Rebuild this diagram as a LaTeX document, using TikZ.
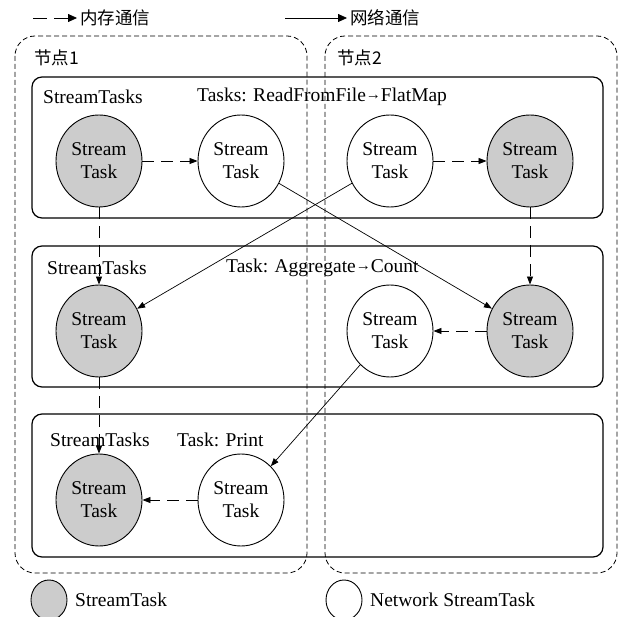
\documentclass[tikz,border=0pt]{standalone}
\usepackage{fontspec}
\setmainfont{Liberation Serif}
\newfontfamily\cjk{Noto Sans CJK SC}
\usetikzlibrary{shapes.geometric,arrows.meta}
\definecolor{taskgray}{RGB}{204,204,204}
\newcommand{\smallarrow}{{\fontsize{15}{15}\selectfont\raisebox{2.5pt}{→}}}
\begin{document}
\begin{tikzpicture}[x=1pt,y=-1pt,
  every node/.style={font=\fontsize{19.5}{21}\selectfont},
  task/.style={ellipse,draw,line width=0.9pt,minimum width=86pt,minimum height=92pt,inner sep=0pt,align=center,font=\fontsize{19.5}{23}\selectfont},
  local/.style={task,fill=taskgray},
  net/.style={task,fill=white},
  tip/.style={-{Triangle[length=8pt,width=6pt]}},
  memlink/.style={tip,line width=0.8pt,dash pattern=on 12pt off 7pt},
  netlink/.style={tip,line width=0.7pt},
  machine/.style={draw,line width=0.8pt,dash pattern=on 5pt off 3pt,rounded corners=20pt},
  stage/.style={draw,line width=1.2pt,rounded corners=10pt},
  lbl/.style={anchor=west,inner sep=0pt},
  zh/.style={lbl,font=\cjk\fontsize{17.5}{19}\selectfont}]
\useasboundingbox (0,0) rectangle (621,617);

% legend: line styles
\coordinate (ma) at (33,18);
\coordinate (mb) at (77,18);
\draw[tip,line width=0.8pt,dash pattern=on 14pt off 7pt,-{Triangle[length=9pt,width=8pt]}] (ma) -- (mb);
\node[zh] (memtxt) at (80,18) {内存通信};
\coordinate (na) at (285,18);
\coordinate (nb) at (347,18);
\draw[line width=0.8pt,-{Triangle[length=9pt,width=8pt]}] (na) -- (nb);
\node[zh] (nettxt) at (350,18) {网络通信};

% machines
\draw[machine] (15,36) rectangle (307,573);
\draw[machine] (325,36) rectangle (617,573);
\node[zh] (m1) at (34,58) {节点1};
\node[zh] (m2) at (337,58) {节点2};

% stages
\draw[stage] (32,77) rectangle (603,218);
\draw[stage] (32,246) rectangle (603,387);
\draw[stage] (32,414) rectangle (603,557);

\node[lbl] (s1a) at (43,97) {StreamTasks};
\node[lbl] (s1b) at (197,97) {Tasks: ReadFromFile\smallarrow FlatMap};
\node[lbl] (s2a) at (47,268) {StreamTasks};
\node[lbl] (s2b) at (226,268) {Task: Aggregate\smallarrow Count};
\node[lbl] (s3a) at (50,440) {StreamTasks};
\node[lbl] (s3b) at (177,440) {Task: Print};

% tasks
\node[local] (a1) at (99,161) {Stream\\Task};
\node[net]   (b1) at (241,161) {Stream\\Task};
\node[net]   (c1) at (390,161) {Stream\\Task};
\node[local] (d1) at (530,161) {Stream\\Task};

\node[local] (a2) at (99,331) {Stream\\Task};
\node[net]   (c2) at (390,331) {Stream\\Task};
\node[local] (d2) at (530,331) {Stream\\Task};

\node[local] (a3) at (99,500) {Stream\\Task};
\node[net]   (b3) at (241,500) {Stream\\Task};

% in-memory links
\draw[memlink] (a1) -- (b1);
\draw[memlink] (c1) -- (d1);
\draw[memlink] (a1) -- (a2);
\draw[memlink] (d1) -- (d2);
\draw[memlink] (d2) -- (c2);
\draw[memlink] (a2) -- (a3);
\draw[memlink] (b3) -- (a3);

% network links
\draw[netlink] (b1) -- (d2);
\draw[netlink] (c1) -- (a2);
\draw[netlink] (c2) -- (b3);

% legend: task kinds
\node[ellipse,draw,line width=0.9pt,fill=taskgray,minimum width=36pt,minimum height=40pt,inner sep=0pt] (lg1) at (49,600) {};
\node[lbl] (lt1) at (75,600) {StreamTask};
\node[ellipse,draw,line width=0.9pt,fill=white,minimum width=36pt,minimum height=40pt,inner sep=0pt] (lg2) at (344,600) {};
\node[lbl] (lt2) at (370,600) {Network StreamTask};
\end{tikzpicture}
\end{document}
